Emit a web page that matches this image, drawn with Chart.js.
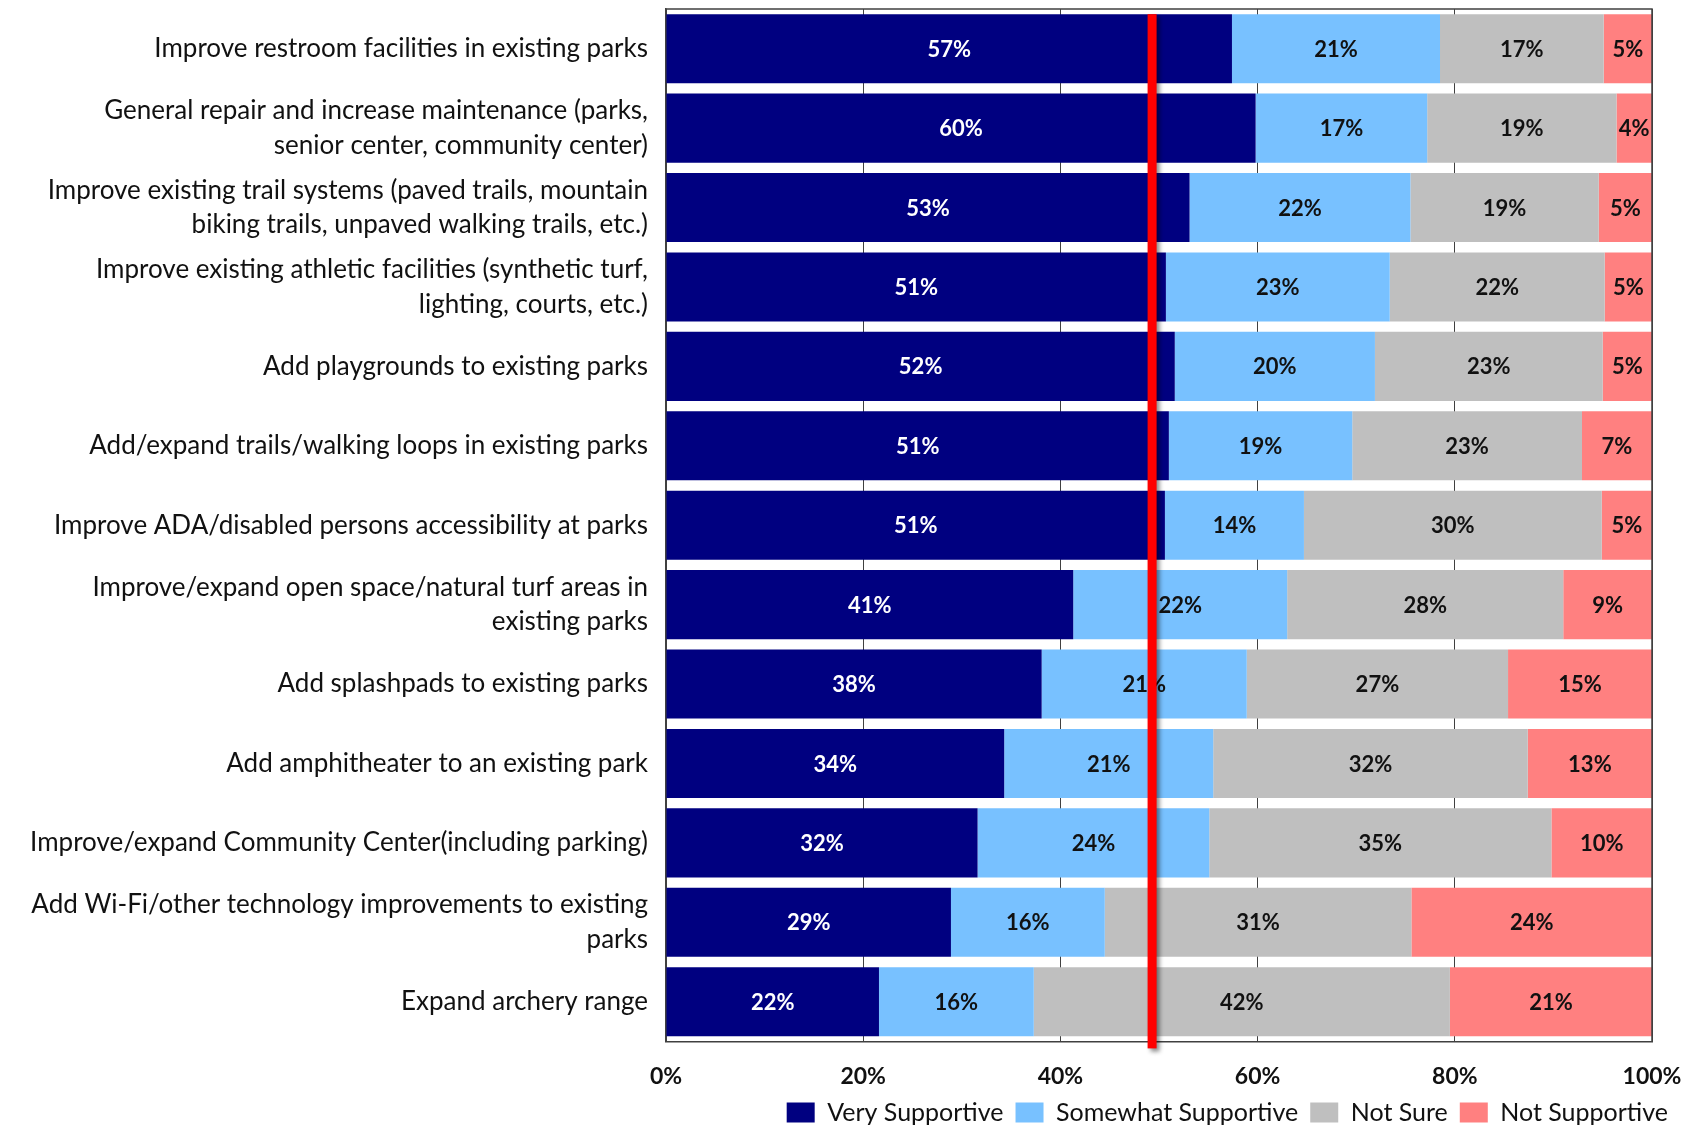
<!DOCTYPE html>
<html>
<head>
<meta charset="utf-8">
<script src="https://cdn.jsdelivr.net/npm/chart.js@4.4.0/dist/chart.umd.min.js"></script>
<style>
  html, body { margin: 0; padding: 0; background: #fff; }
  #wrap { width: 1690px; height: 1127px; }
</style>
</head>
<body>
<div id="wrap"><canvas id="chart"></canvas></div>
<script>
// categories, top to bottom
const categories = [
    'Improve restroom facilities in existing parks',
    ['General repair and increase maintenance (parks,', 'senior center, community center)'],
    ['Improve existing trail systems (paved trails, mountain', 'biking trails, unpaved walking trails, etc.)'],
    ['Improve existing athletic facilities (synthetic turf,', 'lighting, courts, etc.)'],
    'Add playgrounds to existing parks',
    'Add/expand trails/walking loops in existing parks',
    'Improve ADA/disabled persons accessibility at parks',
    ['Improve/expand open space/natural turf areas in', 'existing parks'],
    'Add splashpads to existing parks',
    'Add amphitheater to an existing park',
    'Improve/expand Community Center(including parking)',
    ['Add Wi-Fi/other technology improvements to existing', 'parks'],
    'Expand archery range'
];

// shares in percent
const verySupportive     = [57.4, 59.8, 53.1, 50.7, 51.6, 51.0, 50.6, 41.3, 38.1, 34.3, 31.6, 28.9, 21.6];
const somewhatSupportive = [21.1, 17.4, 22.4, 22.7, 20.3, 18.6, 14.1, 21.7, 20.8, 21.2, 23.5, 15.6, 15.7];
const notSure            = [16.6, 19.2, 19.1, 21.8, 23.1, 23.3, 30.2, 28.0, 26.5, 31.9, 34.7, 31.1, 42.2];
const notSupportive      = [ 4.9,  3.6,  5.4,  4.8,  5.0,  7.1,  5.1,  9.0, 14.6, 12.6, 10.2, 24.4, 20.5];

const seriesNames = ['Very Supportive', 'Somewhat Supportive', 'Not Sure', 'Not Supportive'];
const xTicks = [0, 20, 40, 60, 80, 100];
const redLineValue = 49.3;

const FONT = 'Lato, "Open Sans", sans-serif';

// percentage labels in the middle of each segment
const barLabels = {
    id: 'barLabels',
    afterDatasetsDraw(chart) {
        const ctx = chart.ctx;
        ctx.save();
        ctx.font = 'bold 22px ' + FONT;
        ctx.textAlign = 'center';
        ctx.textBaseline = 'middle';
        chart.data.datasets.forEach((ds, i) => {
            const meta = chart.getDatasetMeta(i);
            meta.data.forEach((bar, j) => {
                ctx.fillStyle = i === 0 ? '#ffffff' : '#111111';
                ctx.fillText(Math.round(ds.data[j]) + '%', (bar.x + bar.base) / 2, bar.y + 1);
            });
        });
        ctx.restore();
    }
};

// red reference line + top/right frame
const refLine = {
    id: 'refLine',
    afterLayout(chart) {
        // legend sits further right than the plot in the original
        if (chart.legend) {
            chart.legend.left += 28;
            chart.legend.right += 28;
        }
    },
    afterDatasetsDraw(chart) {
        const ctx = chart.ctx;
        const area = chart.chartArea;
        const xs = chart.scales.x;
        const first = chart.getDatasetMeta(0).data[0];
        const top = first.y - first.height / 2;
        const x = xs.getPixelForValue(redLineValue);
        ctx.save();
        ctx.strokeStyle = '#404040';
        ctx.lineWidth = 1.5;
        ctx.beginPath();
        ctx.moveTo(area.left, area.top);
        ctx.lineTo(area.right, area.top);
        ctx.lineTo(area.right, area.bottom);
        ctx.stroke();
        ctx.shadowColor = 'rgba(0,0,0,0.45)';
        ctx.shadowOffsetX = 3;
        ctx.shadowOffsetY = 3;
        ctx.shadowBlur = 4;
        ctx.fillStyle = '#ff0000';
        ctx.fillRect(x - 4.5, top, 9, area.bottom + 7 - top);
        ctx.restore();
    }
};

new Chart(document.getElementById('chart'), {
    type: 'bar',
    data: {
        labels: categories,
        datasets: [
            { label: seriesNames[0], data: verySupportive, backgroundColor: '#000080' },
            { label: seriesNames[1], data: somewhatSupportive, backgroundColor: '#78c1ff' },
            { label: seriesNames[2], data: notSure, backgroundColor: '#bfbfbf' },
            { label: seriesNames[3], data: notSupportive, backgroundColor: '#ff8080' }
        ]
    },
    options: {
        indexAxis: 'y',
        responsive: true,
        maintainAspectRatio: false,
        animation: false,
        datasets: { bar: { barPercentage: 0.87, categoryPercentage: 1 } },
        layout: { padding: { top: 9, right: 38, left: 0, bottom: -8 } },
        scales: {
            x: {
                stacked: true,
                min: 0,
                max: 100,
                afterBuildTicks: (s) => { s.ticks = xTicks.map(v => ({ value: v })); },
                afterFit: (s) => { s.height -= 23; s.paddingLeft = 0; s.paddingRight = 0; },
                ticks: {
                    padding: 21,
                    color: '#111',
                    font: { family: FONT, size: 23, weight: 'bold' },
                    callback: (v) => v + '%'
                },
                grid: { color: '#404040', lineWidth: 1, drawTicks: false },
                border: { color: '#404040', width: 1.5 }
            },
            y: {
                stacked: true,
                afterFit: (s) => { s.width = 666; s.paddingTop = 0; s.paddingBottom = 0; },
                ticks: {
                    padding: 18,
                    color: '#111',
                    font: { family: FONT, size: 26, lineHeight: 1.33 }
                },
                grid: { display: false, drawTicks: false },
                border: { color: '#404040', width: 1.5 }
            }
        },
        plugins: {
            legend: {
                position: 'bottom',
                align: 'end',
                labels: {
                    boxWidth: 28,
                    boxHeight: 20,
                    padding: 12,
                    color: '#111',
                    font: { family: FONT, size: 25 }
                }
            },
            tooltip: { enabled: false }
        }
    },
    plugins: [barLabels, refLine]
});
</script>
</body>
</html>
